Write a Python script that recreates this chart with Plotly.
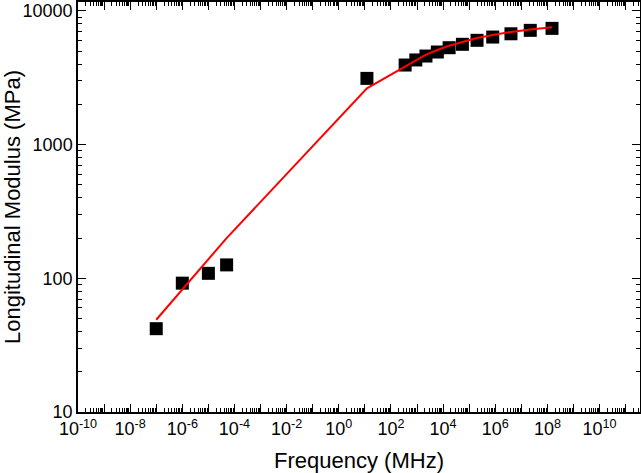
import plotly.graph_objects as go

# measured data (Frequency in MHz, modulus in MPa)
freq = [1e-7, 1e-6, 1e-5, 5e-5, 12, 350, 900, 2200, 6000, 1.7e4, 5.5e4, 2e5, 8e5, 4e6, 2.2e7, 1.5e8]
modulus = [42, 92, 109, 126, 3130, 3940, 4300, 4600, 4930, 5310, 5630, 6030, 6380, 6750, 7160, 7410]

# fitted curve
fit_freq = [1e-7, 5e-5, 12, 350, 900, 2200, 6000, 1.7e4, 5.5e4, 2e5, 8e5, 4e6, 2.2e7, 1.5e8]
fit_modulus = [49, 200, 2640, 3870, 4250, 4720, 5100, 5500, 5850, 6270, 6610, 6970, 7260, 7550]

x_tickvals = [10.0 ** e for e in range(-10, 12)]
x_ticktext = ['10<sup>%d</sup>' % e if e % 2 == 0 else '' for e in range(-10, 12)]
y_tickvals = [10, 100, 1000, 10000]
y_ticktext = ['10', '100', '1000', '10000']

font_family = 'Liberation Sans, Arial'

fig = go.Figure()
fig.add_trace(go.Scatter(x=freq, y=modulus, mode='markers', name='Data',
                         marker=dict(symbol='square', size=13, color='black')))
fig.add_trace(go.Scatter(x=fit_freq, y=fit_modulus, mode='lines', name='Fit',
                         line=dict(color='red', width=2)))

axis_style = dict(showline=True, linecolor='black', linewidth=1.5, mirror='ticks',
                  ticks='inside', ticklen=8, tickwidth=1.2, tickcolor='black',
                  showgrid=False, zeroline=False, automargin=False,
                  tickfont=dict(family=font_family, size=18, color='black'),
                  minor=dict(ticks='inside', ticklen=4, tickwidth=1, tickcolor='black', dtick='D1'))

fig.update_xaxes(type='log', range=[-10, 11.55], tickmode='array',
                 tickvals=x_tickvals, ticktext=x_ticktext,
                 title=dict(text='Frequency (MHz)',
                            font=dict(family=font_family, size=22, color='black')),
                 **axis_style)
fig.update_yaxes(type='log', range=[1, 4.067], tickmode='array',
                 tickvals=y_tickvals, ticktext=y_ticktext,
                 title=dict(text='Longitudinal Modulus (MPa)',
                            font=dict(family=font_family, size=22, color='black')),
                 **axis_style)

fig.update_layout(width=641, height=473, showlegend=False,
                  plot_bgcolor='white', paper_bgcolor='white',
                  margin=dict(l=78, r=1, t=2, b=61, pad=0))

fig.write_html("out.html", config={'displayModeBar': False},
               post_script="document.body.style.margin='0';")
